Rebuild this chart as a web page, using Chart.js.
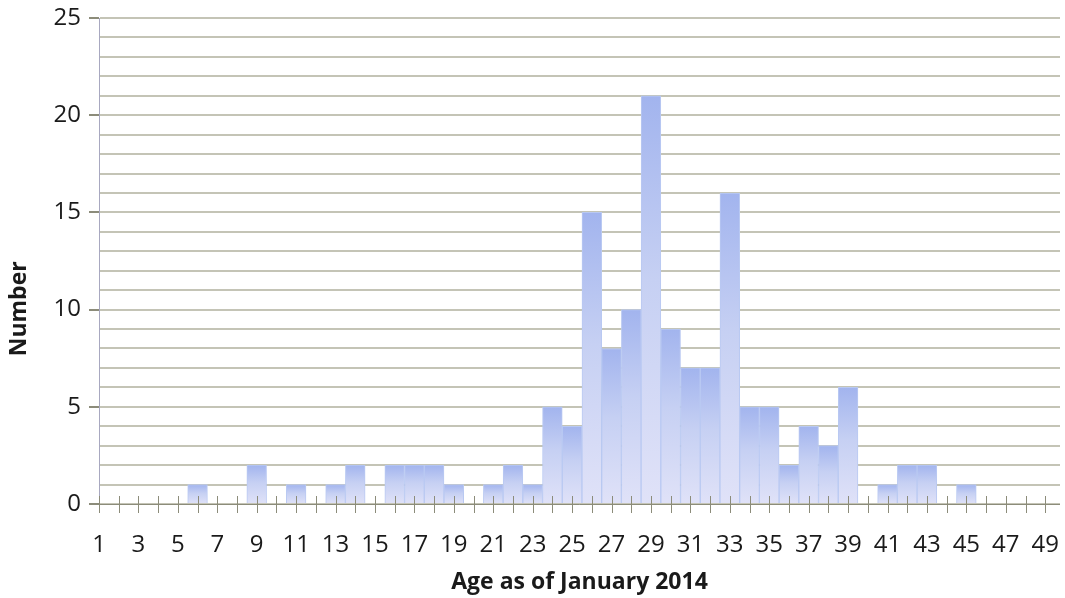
<!DOCTYPE html>
<html>
<head>
<meta charset="utf-8">
<script src="https://cdn.jsdelivr.net/npm/chart.js@4"></script>
<style>
    html, body { margin: 0; padding: 0; background: #fff; }
    #wrap { width: 1065px; height: 598px; }
</style>
</head>
<body>
<div id="wrap"><canvas id="chart-age"></canvas></div>
<script>

const ages = [
    1, 2, 3, 4, 5, 6, 7, 8, 9, 10,
    11, 12, 13, 14, 15, 16, 17, 18, 19, 20,
    21, 22, 23, 24, 25, 26, 27, 28, 29, 30,
    31, 32, 33, 34, 35, 36, 37, 38, 39, 40,
    41, 42, 43, 44, 45, 46, 47, 48, 49
]

const counts = [
    0, 0, 0, 0, 0, 1, 0, 0, 2, 0,
    1, 0, 1, 2, 0, 2, 2, 2, 1, 0,
    1, 2, 1, 5, 4, 15, 8, 10, 21, 9,
    7, 7, 16, 5, 5, 2, 4, 3, 6, 0,
    1, 2, 2, 0, 1, 0, 0, 0, 0
]

const yTicks = [0, 5, 10, 15, 20, 25]


// bar fill: darker blue on top fading to pale lilac
function barFill(ctx) {
    const chart = ctx.chart
    const y = chart.scales.y
    if (!y || ctx.raw == null) return '#c4cff2'
    const v = typeof ctx.raw === 'object' ? ctx.raw.y : ctx.raw
    const top = y.getPixelForValue(v)
    const bottom = y.getPixelForValue(0)
    if (!(bottom - top > 0)) return '#c4cff2'
    const g = chart.ctx.createLinearGradient(0, top, 0, bottom)
    g.addColorStop(0, '#a2b4ee')
    g.addColorStop(0.45, '#c6d0f3')
    g.addColorStop(1, '#e0e2f8')
    return g
}

// tick marks on the x axis cross the axis line
const crossTicks = {
    id: 'crossTicks',
    afterDatasetsDraw(chart) {
        const x = chart.scales.x
        const y0 = Math.round(chart.scales.y.getPixelForValue(0))
        const c = chart.ctx
        c.save()
        c.strokeStyle = '#8c8c7a'
        c.lineWidth = 1
        c.beginPath()
        c.moveTo(chart.chartArea.left, y0 + 0.5)
        c.lineTo(chart.chartArea.right, y0 + 0.5)
        ages.forEach(a => {
            const px = Math.round(x.getPixelForValue(a)) + 0.5
            c.moveTo(px, y0 - 8)
            c.lineTo(px, y0 + 9)
        })
        c.stroke()
        c.restore()
    }
}

const dataAge = {
    datasets: [{
        label: 'Number',
        data: ages.map((a, i) => ({ x: a, y: counts[i] })),
        backgroundColor: barFill,
        borderColor: '#b9c9f2',
        borderWidth: 1,
        barPercentage: 1,
        categoryPercentage: 1
    }]
}

// trailing spaces push the rotated title a bit below the middle, like the original
const yTitle = 'Number' + '\u00a0'.repeat(16)

const configAge = new Chart(
    document.getElementById('chart-age'), {
    type: 'bar',
    data: dataAge,
    plugins: [crossTicks],
    options: {
        responsive: true,
        maintainAspectRatio: false,
        animation: false,
        layout: {
            padding: { top: 18, right: 5, left: 0, bottom: 0 }
        },
        plugins: {
            legend: { display: false },
            tooltip: { enabled: false }
        },
        scales: {
            x: {
                type: 'linear',
                offset: false,
                min: 1,
                max: 49.75,
                afterBuildTicks: scale => {
                    scale.ticks = ages.map(v => ({ value: v }))
                },
                afterFit: scale => {
                    scale.height = 94
                    scale.paddingLeft = 0
                    scale.paddingRight = 0
                },
                border: { display: false },
                grid: {
                    drawOnChartArea: false,
                    drawTicks: false
                },
                ticks: {
                    autoSkip: false,
                    maxRotation: 0,
                    padding: 27,
                    color: '#1a1a1a',
                    font: { family: 'Open Sans', size: 24 },
                    callback: v => (v % 2 === 1 ? String(v) : '')
                },
                title: {
                    display: true,
                    text: 'Age as of January 2014',
                    color: '#1a1a1a',
                    font: { family: 'Open Sans', size: 23, weight: 'bold' },
                    padding: { top: 6, bottom: 2 }
                }
            },
            y: {
                min: 0,
                max: 25,
                afterBuildTicks: scale => {
                    const t = []
                    for (let v = 0; v <= 25; v++) t.push({ value: v })
                    scale.ticks = t
                },
                afterFit: scale => {
                    scale.width = 99
                    scale.paddingTop = 0
                    scale.paddingBottom = 0
                },
                border: { display: true, color: '#a8a8c0', width: 1 },
                grid: {
                    color: '#c4c4b6',
                    lineWidth: 2,
                    tickLength: 10,
                    tickColor: ctx => (yTicks.includes(ctx.tick.value) ? '#8c8c7a' : 'rgba(0,0,0,0)')
                },
                ticks: {
                    autoSkip: false,
                    padding: 8,
                    color: '#1a1a1a',
                    font: { family: 'Open Sans', size: 24 },
                    callback: v => (yTicks.includes(v) ? String(v) : '')
                },
                title: {
                    display: true,
                    text: yTitle,
                    color: '#1a1a1a',
                    font: { family: 'Open Sans', size: 23, weight: 'bold' },
                    padding: { top: 6, bottom: 0 }
                }
            }
        }
    }
})
</script>
</body>
</html>
